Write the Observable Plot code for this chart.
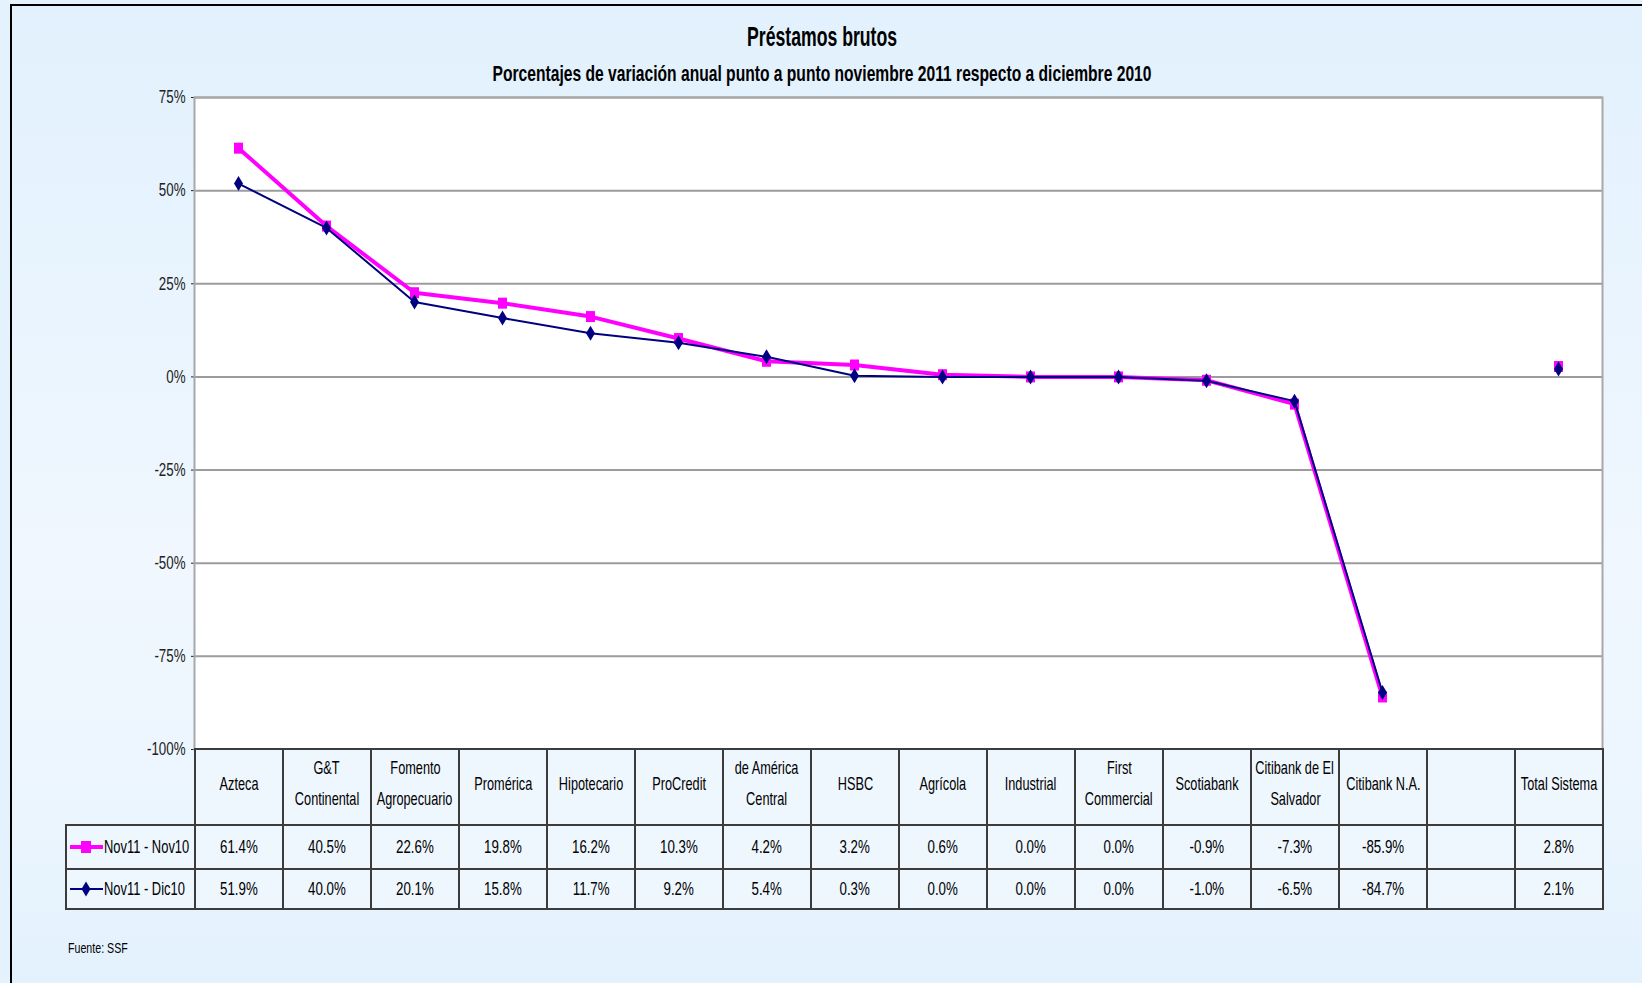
<!DOCTYPE html>
<html>
<head>
<meta charset="utf-8">
<script src="https://cdn.jsdelivr.net/npm/d3@7"></script>
<script src="https://cdn.jsdelivr.net/npm/@observablehq/plot@0.6"></script>
<style>
  html, body { margin: 0; padding: 0; width: 1642px; height: 983px; overflow: hidden; background: #E3F2FD;
    font-family: "Liberation Sans", Arial, sans-serif; color: #000; }
  #frame { position: absolute; left: 10px; top: 4px; width: 1650px; height: 1000px;
    border-left: 2px solid #000; border-top: 2px solid #000;
    background: linear-gradient(180deg, #E2F1FD 0%, #E9F4FE 30%, #F0F7FE 55%, #EDF6FE 75%, #E2F1FD 100%); }
  .sx { display: inline-block; transform: scaleX(0.7); transform-origin: center; white-space: nowrap; flex-shrink: 0; }
  #title { position: absolute; left: 10px; width: 1624px; top: 20px; text-align: center;
    font-weight: bold; font-size: 28px; line-height: 34px; }
  #title .sx { transform: scaleX(0.63); }
  #subtitle { position: absolute; left: 10px; width: 1624px; top: 62px; text-align: center;
    font-weight: bold; font-size: 22px; line-height: 24px; }
  #subtitle .sx { transform: scaleX(0.71); }
  #chart { position: absolute; left: 0; top: 86px; }
  #tbl { position: absolute; left: 65px; top: 748px; border-collapse: collapse; table-layout: fixed; width: 1537px; }
  #tbl td { border: 2px solid #3c3c3c; padding: 0; text-align: center; font-size: 19px; background: #EEF6FE; overflow: visible; }
  #tbl td.blank { border-top: none; border-left: none; background: transparent; }
  #tbl .cell { display: flex; flex-direction: column; align-items: center; justify-content: center; overflow: visible; }
  #tbl tr.head .cell { line-height: 31px; position: relative; top: -4px; }
  #tbl tr.head .sx { transform: scaleX(0.67); }
  #tbl td.leg { text-align: left; padding-left: 2px; white-space: nowrap; }
  #tbl td.leg svg { vertical-align: middle; }
  #tbl td.leg .sx { transform-origin: left center; transform: scaleX(0.68); margin-left: 0px; vertical-align: middle; }
  #source { position: absolute; left: 68px; top: 939px; font-size: 15px; line-height: 18px; }
  #source .sx { transform-origin: left center; transform: scaleX(0.71); }
</style>
</head>
<body>
<div id="frame"></div>
<div id="title"><span class="sx">Préstamos brutos</span></div>
<div id="subtitle"><span class="sx">Porcentajes de variación anual punto a punto noviembre 2011 respecto a diciembre 2010</span></div>
<div id="chart"></div>
<table id="tbl"></table>
<div id="source"><span class="sx">Fuente: SSF</span></div>
<script>
// ---- data ----
const banks = ["Azteca", "G&T\nContinental", "Fomento\nAgropecuario", "Promérica", "Hipotecario", "ProCredit",
  "de América\nCentral", "HSBC", "Agrícola", "Industrial", "First\nCommercial", "Scotiabank",
  "Citibank de El\nSalvador", "Citibank N.A.", "", "Total Sistema"];
const seriesNames = ["Nov11 - Nov10", "Nov11 - Dic10"];
const nov10 = [61.4, 40.5, 22.6, 19.8, 16.2, 10.3, 4.2, 3.2, 0.6, 0.0, 0.0, -0.9, -7.3, -85.9, null, 2.8];
const dic10 = [51.9, 40.0, 20.1, 15.8, 11.7, 9.2, 5.4, 0.3, 0.0, 0.0, 0.0, -1.0, -6.5, -84.7, null, 2.1];
const yTicks = [75, 50, 25, 0, -25, -50, -75, -100];
const colors = ["#FF00FF", "#000080"];

const rowsA = banks.map((b, i) => ({bank: b, v: nov10[i]}));
const rowsB = banks.map((b, i) => ({bank: b, v: dic10[i]}));

const squareSym = {draw(ctx) { ctx.rect(-4.5, -5.5, 9, 11); }};
const diamondSym = {draw(ctx) { ctx.moveTo(0, -7.5); ctx.lineTo(4.5, 0); ctx.lineTo(0, 7.5); ctx.lineTo(-4.5, 0); ctx.closePath(); }};

const svg = Plot.plot({
  width: 1642,
  height: 674,
  marginTop: 11,
  marginBottom: 11,
  marginLeft: 194,
  marginRight: 40,
  style: {background: "transparent", fontSize: "18px", fontFamily: "Liberation Sans, Arial, sans-serif", color: "#222", overflow: "visible"},
  x: {type: "point", domain: banks, padding: 0.5, round: false, axis: null},
  y: {domain: [-100, 75], ticks: yTicks, tickFormat: d => d + "%", tickSize: 3, tickPadding: 6, label: null, line: true},
  marks: [
    Plot.frame({fill: "white", stroke: null}),
    Plot.ruleY(yTicks.filter(t => t > -100), {stroke: "#9c9c9c", strokeWidth: 2}),
    Plot.frame({stroke: "#a8a8a8", strokeWidth: 2}),
    Plot.ruleY([-100], {stroke: "#3c3c3c", strokeWidth: 2}),
    Plot.line(rowsA, {x: "bank", y: "v", stroke: colors[0], strokeWidth: 4}),
    Plot.dot(rowsA, {x: "bank", y: "v", symbol: squareSym, fill: colors[0], stroke: null}),
    Plot.line(rowsB, {x: "bank", y: "v", stroke: colors[1], strokeWidth: 2}),
    Plot.dot(rowsB, {x: "bank", y: "v", symbol: diamondSym, fill: colors[1], stroke: null})
  ]
});
document.getElementById("chart").appendChild(svg);
svg.querySelectorAll("text").forEach(t => {
  const L = t.getComputedTextLength();
  if (L > 0) { t.setAttribute("textLength", (L * 0.74).toFixed(2)); t.setAttribute("lengthAdjust", "spacingAndGlyphs"); }
});

// ---- table ----
const fmt = v => v == null ? "" : v.toFixed(1) + "%";
const tbl = d3.select("#tbl");
const cg = tbl.append("colgroup");
cg.append("col").style("width", "129px");
banks.forEach(() => cg.append("col").style("width", "88px"));

const head = tbl.append("tr").attr("class", "head").style("height", "76px");
head.append("td").attr("class", "blank");
banks.forEach(b => {
  const cell = head.append("td").append("div").attr("class", "cell");
  b.split("\n").forEach(line => cell.append("span").attr("class", "sx").text(line));
});

function legendMarker(td, k) {
  const s = td.append("svg").attr("width", 35).attr("height", 16);
  s.append("line").attr("x1", 1).attr("x2", 34).attr("y1", 8).attr("y2", 8)
    .attr("stroke", colors[k]).attr("stroke-width", k === 0 ? 4 : 2);
  if (k === 0) s.append("rect").attr("x", 12).attr("y", 2).attr("width", 10).attr("height", 12).attr("fill", colors[k]);
  else s.append("path").attr("d", "M17,0.5L21.5,8L17,15.5L12.5,8Z").attr("fill", colors[k]);
}

[nov10, dic10].forEach((vals, k) => {
  const tr = tbl.append("tr").style("height", k === 0 ? "44px" : "40px");
  const leg = tr.append("td").attr("class", "leg");
  legendMarker(leg, k);
  leg.append("span").attr("class", "sx").text(seriesNames[k]);
  vals.forEach(v => tr.append("td").append("div").attr("class", "cell")
    .append("span").attr("class", "sx").text(fmt(v)));
});
</script>
</body>
</html>
